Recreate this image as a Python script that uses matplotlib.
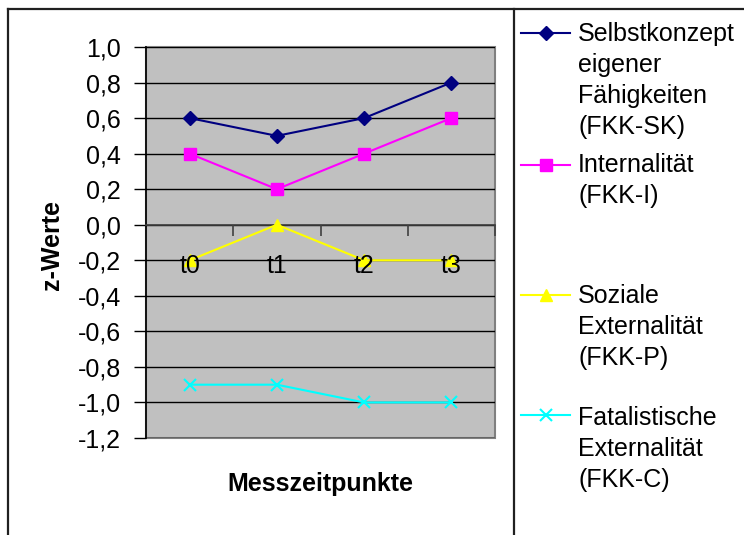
import matplotlib
matplotlib.use("Agg")
import matplotlib.pyplot as plt
from matplotlib.lines import Line2D
from matplotlib.ticker import FuncFormatter, FixedLocator

# --------------------------------------------------------------------------- #
#  Data: z-values of the FKK scales at four measurement points
# --------------------------------------------------------------------------- #
zeitpunkte = ["t0", "t1", "t2", "t3"]
fkk_sk = [0.6, 0.5, 0.6, 0.8]
fkk_i = [0.4, 0.2, 0.4, 0.6]
fkk_p = [-0.2, 0.0, -0.2, -0.2]
fkk_c = [-0.9, -0.9, -1.0, -1.0]

legend_labels = [
    ["Selbstkonzept", "eigener", "Fähigkeiten", "(FKK-SK)"],
    ["Internalität", "(FKK-I)"],
    ["Soziale", "Externalität", "(FKK-P)"],
    ["Fatalistische", "Externalität", "(FKK-C)"],
]

STYLES = [
    dict(color="#000080", marker="D", markersize=7),
    dict(color="#FF00FF", marker="s", markersize=9),
    dict(color="#FFFF00", marker="^", markersize=9),
    dict(color="#00FFFF", marker="x", markersize=9, markeredgewidth=1.5),
]

plt.rcParams["font.family"] = ["Liberation Sans", "DejaVu Sans"]
FS = 18

W, H = 744, 535
fig = plt.figure(figsize=(W / 100, H / 100), dpi=100)


def fx(px):
    return px / W


def fy(py):
    return 1 - py / H


# Plot area
ax = fig.add_axes([fx(146), fy(438), fx(495) - fx(146), fy(47) - fy(438)])
ax.set_facecolor("#C0C0C0")
ax.patch.set_edgecolor("#808080")
ax.patch.set_linewidth(1.5)

x = range(len(zeitpunkte))
for series, st in zip([fkk_sk, fkk_i, fkk_p, fkk_c], STYLES):
    ax.plot(x, series, linewidth=1.5, markeredgecolor=st["color"],
            clip_on=False, zorder=3, **st)

ax.set_xlim(-0.5, len(zeitpunkte) - 0.5)
ax.set_ylim(-1.2, 1.0)

yticks = [round(-1.2 + 0.2 * i, 1) for i in range(12)]
ax.yaxis.set_major_locator(FixedLocator(yticks))
ax.yaxis.set_major_formatter(
    FuncFormatter(lambda v, _: f"{v:.1f}".replace(".", ",").replace("-0,0", "0,0")))
ax.yaxis.grid(True, color="black", linewidth=1)
ax.tick_params(axis="y", direction="out", length=9, width=1, pad=9,
               labelsize=FS, colors="black")
# gridlines under the series, category labels on top of them
ax.yaxis.set_zorder(1)
ax.xaxis.set_zorder(4)

# category axis sits on the zero line
ax.spines["bottom"].set_position(("data", 0))
ax.spines["bottom"].set_color("#404040")
ax.spines["bottom"].set_linewidth(1.2)
ax.spines["left"].set_color("black")
ax.spines["left"].set_linewidth(1.2)
ax.spines["top"].set_visible(False)
ax.spines["right"].set_visible(False)

ax.set_xticks(list(x))
ax.set_xticklabels(zeitpunkte)
ax.set_xticks([i + 0.5 for i in x], minor=True)
ax.tick_params(axis="x", which="major", length=0, pad=21, labelsize=FS)
ax.tick_params(axis="x", which="minor", direction="out", length=8, width=1.2,
               color="#404040")

fig.text(fx(52), fy(245), "z-Werte", rotation=90, ha="center", va="center",
         fontsize=FS, fontweight="bold")
fig.text(fx(320), fy(484), "Messzeitpunkte", ha="center", va="center",
         fontsize=FS, fontweight="bold")

# Chart frame and legend divider
frame = dict(color="#202020", linewidth=1.6, transform=fig.transFigure)
fig.add_artist(Line2D([fx(8), 1], [fy(9), fy(9)], **frame))
fig.add_artist(Line2D([fx(8), fx(8)], [fy(9), 0], **frame))
fig.add_artist(Line2D([fx(514), fx(514)], [fy(9), 0], **frame))

# Legend entries: short line with the marker in the middle, then wrapped text
marker_y = [33, 165, 295, 415]
baselines = [[41, 72, 103, 134], [172, 203], [303, 334, 365], [425, 456, 487]]
for lines, my, bls, st in zip(legend_labels, marker_y, baselines, STYLES):
    handle = Line2D([fx(521), fx(545.5), fx(570)], [fy(my)] * 3,
                    linewidth=1.5, markeredgecolor=st["color"], markevery=[1],
                    transform=fig.transFigure, **st)
    fig.add_artist(handle)
    for txt, b in zip(lines, bls):
        fig.text(fx(578), fy(b), txt, ha="left", va="baseline", fontsize=FS)

fig.savefig("out.png", dpi=100)
